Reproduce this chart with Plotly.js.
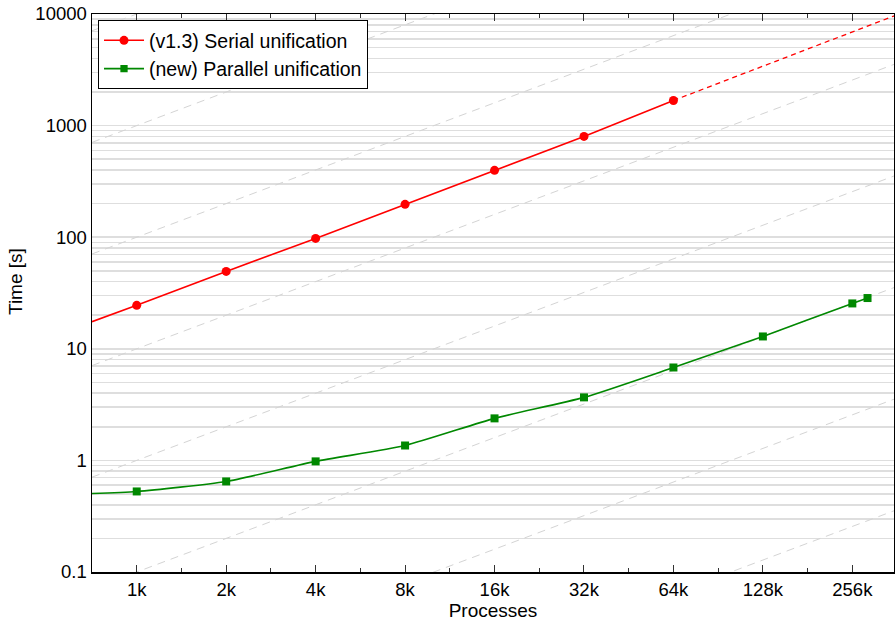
<!DOCTYPE html>
<html>
<head>
<meta charset="utf-8">
<script src="https://cdn.plot.ly/plotly-3.0.1.min.js"></script>
<style>html,body{margin:0;padding:0;background:#fff}#chart{width:895px;height:625px}</style>
</head>
<body>
<div id="chart"></div>
<script>
// Tick labels (processes)
var tickVals = [1024, 2048, 4096, 8192, 16384, 32768, 65536, 131072, 262144];
var tickText = ["1k", "2k", "4k", "8k", "16k", "32k", "64k", "128k", "256k"];

// Serial unification (v1.3)
var serialX = [1024, 2048, 4096, 8192, 16384, 32768, 65536];
var serialY = [24.5, 49.4, 97.5, 197, 397, 800, 1680];
// Fitted extensions of the serial line (read at the plot edges)
var serialLeftX = [724, 1024];
var serialLeftY = [17.5, 24.5];
var serialExtX = [65536, 362039];
var serialExtY = [1680, 9600];

// Parallel unification (new)
var parallelX = [724, 1024, 2048, 4096, 8192, 16384, 32768, 65536, 131072, 262144, 294912];
var parallelY = [0.505, 0.527, 0.648, 0.98, 1.36, 2.38, 3.67, 6.8, 12.9, 25.5, 28.5];
var parallelMarkerSize = [0, 8, 8, 8, 8, 8, 8, 8, 8, 8, 8];

// Linear-scaling guide lines: time = factor * processes / 1k
var guideX = [724, 362039];
var guideFactors = [0.001, 0.01, 0.1, 1, 10, 100, 1000, 10000];

var traces = [];
guideFactors.forEach(function (f) {
  traces.push({
    x: guideX,
    y: guideX.map(function (v) { return f * v / 1024; }),
    mode: "lines",
    line: { color: "#d4d4d4", width: 1, dash: "8px,6px" },
    hoverinfo: "skip",
    showlegend: false
  });
});

traces.push({
  x: serialLeftX, y: serialLeftY, mode: "lines",
  line: { color: "#ff0000", width: 1.6 }, showlegend: false, hoverinfo: "skip"
});
traces.push({
  x: serialExtX, y: serialExtY, mode: "lines",
  line: { color: "#ff0000", width: 1.3, dash: "5px,4px" }, showlegend: false, hoverinfo: "skip"
});
traces.push({
  x: serialX, y: serialY, mode: "lines+markers",
  name: "(v1.3) Serial unification",
  line: { color: "#ff0000", width: 1.6 },
  marker: { color: "#ff0000", symbol: "circle", size: 9, line: { width: 0 } }
});
traces.push({
  x: parallelX, y: parallelY, mode: "lines+markers",
  name: "(new) Parallel unification",
  line: { color: "#008800", width: 1.6, shape: "spline", smoothing: 0.6 },
  marker: { color: "#008800", symbol: "square", size: parallelMarkerSize, opacity: 1, line: { width: 0 } }
});

var fam = "Liberation Sans, Arial, sans-serif";
var tickFont = { family: fam, size: 18.5, color: "#000" };

var layout = {
  width: 895, height: 625,
  margin: { l: 92, r: 1, t: 14, b: 53 },
  paper_bgcolor: "#fff", plot_bgcolor: "#fff",
  font: { family: fam, size: 18, color: "#000" },
  showlegend: true,
  legend: {
    x: 0.0075, y: 0.989, xanchor: "left", yanchor: "top",
    bgcolor: "#fff", bordercolor: "#000", borderwidth: 1,
    font: { family: fam, size: 19.5, color: "#000" },
    itemwidth: 40, tracegroupgap: 0
  },
  xaxis: {
    type: "log",
    range: [Math.log10(724.08), Math.log10(362039)],
    tickvals: tickVals, ticktext: tickText,
    ticks: "inside", ticklen: 7, tickwidth: 1, tickcolor: "#333",
    showline: true, linecolor: "#000", linewidth: 1.5, mirror: "ticks",
    showgrid: false, zeroline: false,
    minor: { tickvals: [1448, 2896, 5793, 11585, 23170, 46341, 92682, 185364, 370728], ticks: "inside", ticklen: 4, tickcolor: "#333", showgrid: false },
    title: { text: "Processes", font: { family: fam, size: 19 }, standoff: 4 },
    tickfont: tickFont
  },
  yaxis: {
    type: "log",
    range: [-1, 4],
    tickvals: [0.1, 1, 10, 100, 1000, 10000],
    ticktext: ["0.1", "1", "10", "100", "1000", "10000"],
    ticks: "",
    showline: true, linecolor: "#000", linewidth: 1.5, mirror: true,
    showgrid: true, gridcolor: "#dedede", gridwidth: 1.5,
    zeroline: false,
    minor: { dtick: "D1", showgrid: true, gridcolor: "#dedede", gridwidth: 1.5, ticks: "" },
    tickfont: tickFont
  },
  annotations: [{
    text: "Time [s]", textangle: -90, showarrow: false,
    xref: "paper", yref: "paper", x: -92 / 802 + 15 / 802, y: (572 - 282) / 558,
    xanchor: "center", yanchor: "middle",
    font: { family: fam, size: 19, color: "#000" }
  }]
};

Plotly.newPlot("chart", traces, layout, { displayModeBar: false, staticPlot: true });
</script>
</body>
</html>
